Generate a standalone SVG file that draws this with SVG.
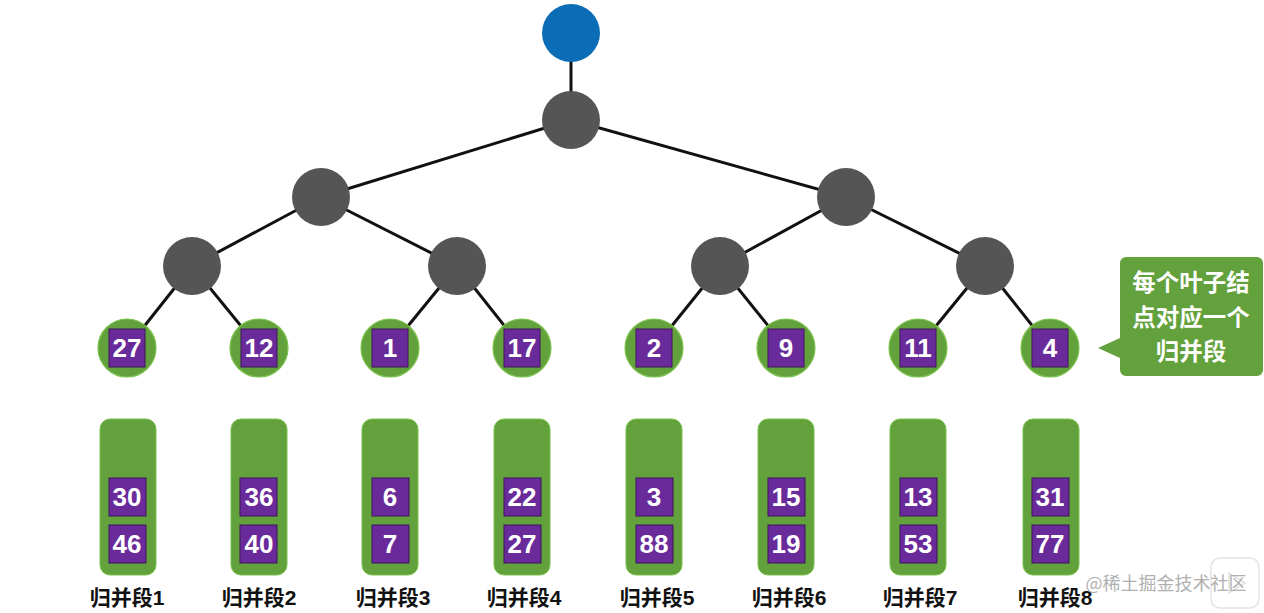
<svg xmlns="http://www.w3.org/2000/svg" width="1264" height="613" viewBox="0 0 1264 613">
<style>
.edge{stroke:#111;stroke-width:3;fill:none}
.inner{fill:#555555}
.root{fill:#0A6DB5}
.leaf{fill:#62A13B;stroke:#7BC24E;stroke-width:1.2}
.seg{fill:#62A13B;stroke:#7BC24E;stroke-width:1}
.box{fill:#6A2B9A;stroke:#3d1560;stroke-width:1}
.num{font-family:"Liberation Sans",Arial,sans-serif;font-weight:bold;font-size:26px;fill:#ffffff;text-anchor:middle}
.lbl{font-family:"Liberation Sans","Noto Sans CJK SC",sans-serif;font-weight:bold;font-size:21px;fill:#111;text-anchor:middle}
.call{font-family:"Liberation Sans","Noto Sans CJK SC",sans-serif;font-weight:bold;font-size:23.5px;fill:#ffffff;text-anchor:middle}
.wm{font-family:"Noto Sans CJK SC",sans-serif;font-size:18px;fill:#b0b0b0;text-anchor:middle}
</style>
<rect width="1264" height="613" fill="#ffffff"/>
<g id="connectors">
<line class="edge" x1="571" y1="33" x2="571" y2="120"/>
<line class="edge" x1="571" y1="120" x2="321" y2="197"/>
<line class="edge" x1="571" y1="120" x2="846" y2="197"/>
<line class="edge" x1="321" y1="197" x2="192" y2="266"/>
<line class="edge" x1="321" y1="197" x2="457" y2="266"/>
<line class="edge" x1="846" y1="197" x2="720" y2="266"/>
<line class="edge" x1="846" y1="197" x2="985" y2="266"/>
<line class="edge" x1="192" y1="266" x2="127" y2="348"/>
<line class="edge" x1="192" y1="266" x2="259" y2="348"/>
<line class="edge" x1="457" y1="266" x2="390" y2="348"/>
<line class="edge" x1="457" y1="266" x2="522" y2="348"/>
<line class="edge" x1="720" y1="266" x2="654" y2="348"/>
<line class="edge" x1="720" y1="266" x2="786" y2="348"/>
<line class="edge" x1="985" y1="266" x2="918" y2="348"/>
<line class="edge" x1="985" y1="266" x2="1050" y2="348"/>
</g>
<g id="root"><circle class="root" cx="571" cy="33" r="29"/></g>
<g id="n1"><circle class="inner" cx="571" cy="120" r="29"/></g>
<g id="n2"><circle class="inner" cx="321" cy="197" r="29"/></g>
<g id="n3"><circle class="inner" cx="846" cy="197" r="29"/></g>
<g id="n4"><circle class="inner" cx="192" cy="266" r="29"/></g>
<g id="n5"><circle class="inner" cx="457" cy="266" r="29"/></g>
<g id="n6"><circle class="inner" cx="720" cy="266" r="29"/></g>
<g id="n7"><circle class="inner" cx="985" cy="266" r="29"/></g>

<g id="leaf1"><circle class="leaf" cx="127" cy="348" r="29"/><rect class="box" x="109" y="329" width="36" height="38"/><text class="num" x="127" y="357">27</text></g>
<g id="leaf2"><circle class="leaf" cx="259" cy="348" r="29"/><rect class="box" x="241" y="329" width="36" height="38"/><text class="num" x="259" y="357">12</text></g>
<g id="leaf3"><circle class="leaf" cx="390" cy="348" r="29"/><rect class="box" x="372" y="329" width="36" height="38"/><text class="num" x="390" y="357">1</text></g>
<g id="leaf4"><circle class="leaf" cx="522" cy="348" r="29"/><rect class="box" x="504" y="329" width="36" height="38"/><text class="num" x="522" y="357">17</text></g>
<g id="leaf5"><circle class="leaf" cx="654" cy="348" r="29"/><rect class="box" x="636" y="329" width="36" height="38"/><text class="num" x="654" y="357">2</text></g>
<g id="leaf6"><circle class="leaf" cx="786" cy="348" r="29"/><rect class="box" x="768" y="329" width="36" height="38"/><text class="num" x="786" y="357">9</text></g>
<g id="leaf7"><circle class="leaf" cx="918" cy="348" r="29"/><rect class="box" x="900" y="329" width="36" height="38"/><text class="num" x="918" y="357">11</text></g>
<g id="leaf8"><circle class="leaf" cx="1050" cy="348" r="29"/><rect class="box" x="1032" y="329" width="36" height="38"/><text class="num" x="1050" y="357">4</text></g>

<g id="callout">
<path d="M1126,257 H1257 A6,6 0 0 1 1263,263 V370 A6,6 0 0 1 1257,376 H1126 A6,6 0 0 1 1120,370 V358 L1098,348 L1120,338 V263 A6,6 0 0 1 1126,257 Z" fill="#62A13B"/>
<text class="call" x="1191" y="291">每个叶子结</text>
<text class="call" x="1191" y="326">点对应一个</text>
<text class="call" x="1191" y="360">归并段</text>
</g>

<g id="seg1"><rect class="seg" x="100" y="419" width="56" height="156" rx="10"/><rect class="box" x="109" y="478" width="37" height="38"/><text class="num" x="127" y="506">30</text><rect class="box" x="109" y="525" width="37" height="38"/><text class="num" x="127" y="553">46</text><text class="lbl" x="127" y="605">归并段1</text></g>
<g id="seg2"><rect class="seg" x="231" y="419" width="56" height="156" rx="10"/><rect class="box" x="240" y="478" width="37" height="38"/><text class="num" x="259" y="506">36</text><rect class="box" x="240" y="525" width="37" height="38"/><text class="num" x="259" y="553">40</text><text class="lbl" x="259" y="605">归并段2</text></g>
<g id="seg3"><rect class="seg" x="362" y="419" width="56" height="156" rx="10"/><rect class="box" x="372" y="478" width="37" height="38"/><text class="num" x="390" y="506">6</text><rect class="box" x="372" y="525" width="37" height="38"/><text class="num" x="390" y="553">7</text><text class="lbl" x="393" y="605">归并段3</text></g>
<g id="seg4"><rect class="seg" x="494" y="419" width="56" height="156" rx="10"/><rect class="box" x="504" y="478" width="37" height="38"/><text class="num" x="522" y="506">22</text><rect class="box" x="504" y="525" width="37" height="38"/><text class="num" x="522" y="553">27</text><text class="lbl" x="524" y="605">归并段4</text></g>
<g id="seg5"><rect class="seg" x="626" y="419" width="56" height="156" rx="10"/><rect class="box" x="636" y="478" width="37" height="38"/><text class="num" x="654" y="506">3</text><rect class="box" x="636" y="525" width="37" height="38"/><text class="num" x="654" y="553">88</text><text class="lbl" x="657" y="605">归并段5</text></g>
<g id="seg6"><rect class="seg" x="758" y="419" width="56" height="156" rx="10"/><rect class="box" x="768" y="478" width="37" height="38"/><text class="num" x="786" y="506">15</text><rect class="box" x="768" y="525" width="37" height="38"/><text class="num" x="786" y="553">19</text><text class="lbl" x="789" y="605">归并段6</text></g>
<g id="seg7"><rect class="seg" x="890" y="419" width="56" height="156" rx="10"/><rect class="box" x="900" y="478" width="37" height="38"/><text class="num" x="918" y="506">13</text><rect class="box" x="900" y="525" width="37" height="38"/><text class="num" x="918" y="553">53</text><text class="lbl" x="920" y="605">归并段7</text></g>
<g id="seg8"><rect class="seg" x="1023" y="419" width="56" height="156" rx="10"/><rect class="box" x="1032" y="478" width="37" height="38"/><text class="num" x="1050" y="506">31</text><rect class="box" x="1032" y="525" width="37" height="38"/><text class="num" x="1050" y="553">77</text><text class="lbl" x="1055" y="605">归并段8</text></g>

<g id="watermark">
<rect x="1211" y="558" width="48" height="50" rx="9" fill="#ffffff" stroke="#e4e4e4" stroke-width="1.5"/>
<path d="M1229,573 L1245,583 L1229,593 Z" fill="none" stroke="#e0e0e0" stroke-width="1.5"/>
<text class="wm" x="1166" y="590">@稀土掘金技术社区</text>
</g>
</svg>
